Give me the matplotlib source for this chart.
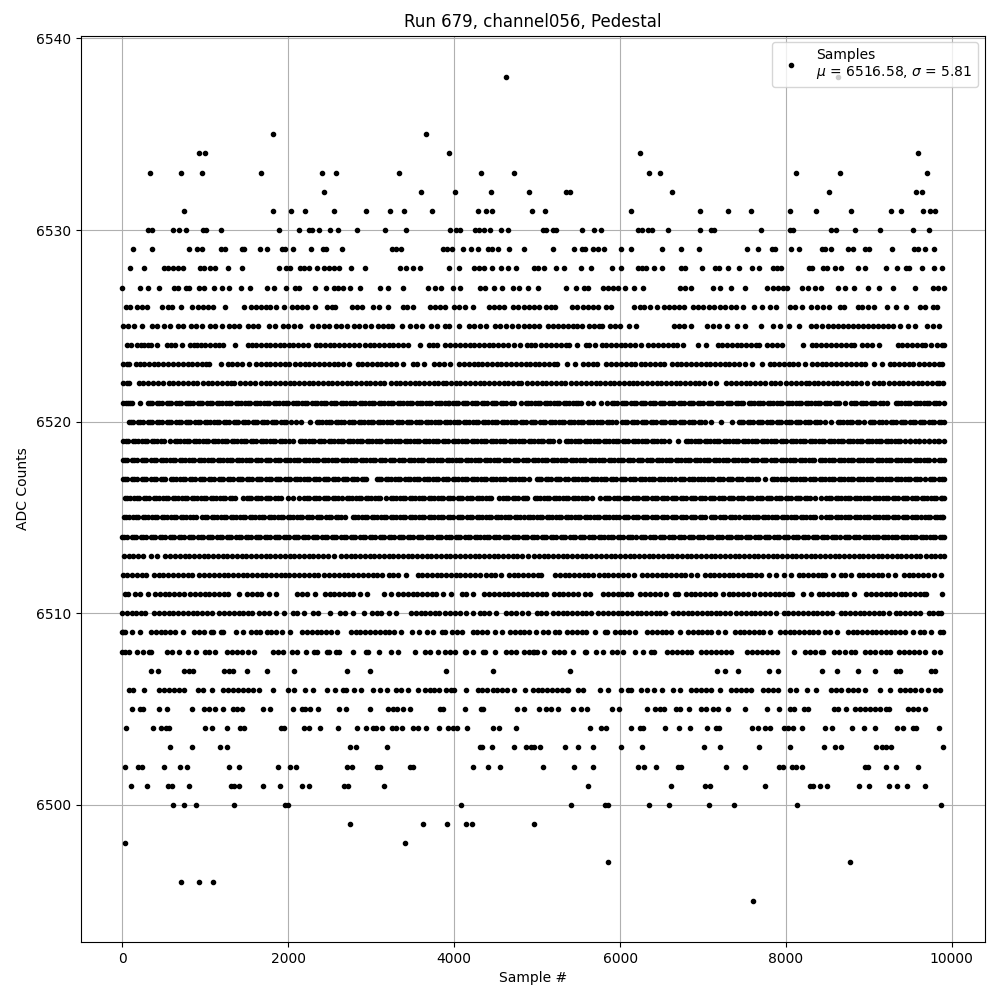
import matplotlib
matplotlib.use('Agg')
import matplotlib.pyplot as plt
import numpy as np

# sample numbers, one list per ADC level
s6538 = [4626, 8626]
s6535 = [1819, 3663]
s6534 = [928, 1000, 3940, 6241, 9590]
s6533 = [337, 711, 964, 1675, 2410, 2578, 3337, 4325, 4723, 6349, 6482, 8120, 8650, 9699]
s6532 = [2434, 3602, 4012, 4446, 4904, 5353, 5394, 6626, 8518, 9567, 9638]
s6531 = [747, 1819, 2036, 2205, 2554, 2940, 3229, 3398, 3735, 4289, 4386, 4458, 4940, 5096, 6133, 6964, 7301, 7578, 8048, 8361, 8783, 9265, 9385, 9650, 9735, 9795]
s6530 = [313, 353, 614, 687, 771, 976, 1012, 1193, 1892, 2133, 2253, 2281, 2373, 2506, 2602, 2831, 3169, 3422, 3952, 4024, 4072, 4253, 4293, 4361, 4426, 4566, 4650, 5072, 5112, 5192, 5232, 5542, 5687, 5771, 6217, 6265, 6337, 6386, 6578, 6964, 7100, 7132, 7699, 8048, 8084, 8542, 8606, 8831, 9132, 9530, 9723]
s6529 = [133, 361, 807, 904, 964, 1193, 1241, 1446, 1470, 1663, 1747, 1928, 1964, 2060, 2277, 2422, 2458, 2651, 3253, 3301, 3361, 3867, 3916, 3976, 4108, 4205, 4289, 4410, 4454, 4530, 4663, 4843, 5193, 5446, 5542, 5574, 5675, 5735, 5803, 6012, 6133, 6506, 6735, 6952, 7530, 7663, 7831, 7867, 8060, 8157, 8434, 8470, 8542, 8747, 8807, 8952, 9000, 9277, 9542, 9590, 9675, 9783]
s6528 = [96, 265, 506, 554, 614, 675, 735, 940, 988, 1060, 1120, 1277, 1446, 1892, 1976, 2024, 2145, 2193, 2253, 2349, 2434, 2494, 2554, 2614, 2759, 2928, 3349, 3422, 3506, 3590, 3940, 4060, 4241, 4301, 4361, 4454, 4566, 4650, 4747, 4964, 5012, 5080, 5229, 5325, 5530, 5651, 5904, 6012, 6217, 6265, 6313, 6410, 6506, 6735, 6783, 6988, 7145, 7193, 7301, 7434, 7590, 7675, 7843, 7892, 7940, 8277, 8313, 8446, 8494, 8590, 8663, 8867, 8952, 9205, 9337, 9446, 9482, 9638, 9783, 9880]
s6527 = [0, 217, 313, 446, 626, 675, 771, 807, 928, 988, 1108, 1205, 1289, 1434, 1542, 1747, 1831, 1976, 2084, 2133, 2325, 2458, 2554, 2602, 2663, 2747, 2867, 3108, 3205, 3386, 3687, 3771, 3843, 3988, 4072, 4313, 4373, 4482, 4578, 4711, 4783, 4892, 5012, 5349, 5470, 5566, 5614, 5795, 5855, 5916, 5976, 6056, 6169, 6277, 6723, 6783, 6855, 7120, 7205, 7333, 7506, 7771, 7843, 7904, 7964, 8012, 8193, 8265, 8349, 8422, 8627, 8707, 8815, 8988, 9120, 9289, 9554, 9771, 9831, 9904]
s6526 = [48, 96, 181, 241, 301, 482, 554, 602, 707, 843, 916, 976, 1036, 1096, 1237, 1470, 1554, 1614, 1675, 1735, 1783, 1855, 1952, 2048, 2108, 2169, 2229, 2325, 2470, 2530, 2566, 2771, 2831, 2891, 3024, 3096, 3205, 3386, 3434, 3506, 3711, 3771, 3831, 3892, 4000, 4060, 4133, 4221, 4422, 4482, 4542, 4602, 4703, 4771, 4843, 4904, 4964, 5024, 5112, 5161, 5217, 5422, 5482, 5554, 5614, 5675, 5735, 5831, 5892, 6169, 6241, 6289, 6361, 6446, 6530, 6590, 6651, 6711, 6771, 6880, 6940, 7000, 7072, 7132, 7205, 7265, 7337, 7398, 7482, 7614, 7711, 7807, 7879, 8048, 8108, 8193, 8301, 8373, 8446, 8518, 8651, 8699, 8867, 8916, 8988, 9060, 9217, 9325, 9446, 9618, 9675, 9771, 9819]
s6525 = [12, 64, 145, 241, 361, 422, 506, 578, 667, 735, 831, 892, 964, 1060, 1120, 1205, 1289, 1349, 1410, 1518, 1578, 1639, 1771, 1843, 1940, 2000, 2072, 2145, 2289, 2361, 2434, 2494, 2578, 2639, 2711, 2795, 2855, 2928, 3000, 3076, 3145, 3205, 3253, 3369, 3470, 3542, 3614, 3723, 3795, 3892, 3940, 4060, 4181, 4241, 4313, 4386, 4494, 4554, 4626, 4699, 4771, 4843, 4904, 4964, 5024, 5133, 5193, 5253, 5313, 5373, 5434, 5482, 5542, 5627, 5687, 5747, 5783, 5880, 5940, 6000, 6108, 6193, 6651, 6711, 6771, 6855, 7048, 7120, 7193, 7289, 7410, 7506, 7699, 7843, 7928, 8036, 8157, 8301, 8361, 8434, 8506, 8566, 8627, 8687, 8747, 8807, 8867, 8928, 8988, 9048, 9108, 9169, 9229, 9289, 9369, 9470, 9554, 9699, 9771, 9843]
s6524 = [55, 105, 180, 225, 265, 310, 350, 415, 540, 585, 630, 723, 810, 860, 905, 950, 1000, 1050, 1120, 1170, 1215, 1357, 1510, 1560, 1615, 1665, 1725, 1780, 1840, 1895, 1950, 2005, 2060, 2115, 2175, 2241, 2330, 2385, 2440, 2500, 2555, 2615, 2670, 2730, 2790, 2850, 2925, 2980, 3035, 3095, 3150, 3210, 3265, 3325, 3380, 3440, 3590, 3700, 3750, 3795, 3895, 3950, 4010, 4070, 4125, 4185, 4240, 4300, 4355, 4415, 4470, 4530, 4590, 4645, 4723, 4790, 4880, 4930, 4975, 5050, 5110, 5170, 5230, 5285, 5345, 5385, 5486, 5590, 5625, 5695, 5780, 5835, 5895, 5950, 6010, 6065, 6125, 6180, 6250, 6340, 6395, 6455, 6520, 6575, 6635, 6690, 6760, 6940, 7040, 7175, 7230, 7290, 7345, 7405, 7460, 7520, 7580, 7640, 7670, 7775, 7830, 7890, 7950, 8205, 8310, 8365, 8425, 8485, 8545, 8600, 8660, 8720, 8780, 8825, 8920, 8975, 9035, 9120, 9345, 9400, 9460, 9520, 9580, 9635, 9680, 9751, 9825, 9880, 9900]
s6523 = [5, 50, 85, 160, 210, 265, 320, 375, 430, 490, 545, 615, 670, 725, 785, 840, 900, 955, 1010, 1048, 1189, 1270, 1325, 1385, 1445, 1530, 1610, 1665, 1725, 1780, 1840, 1895, 1955, 2012, 2085, 2140, 2200, 2255, 2315, 2370, 2430, 2485, 2545, 2600, 2660, 2735, 2835, 2890, 2950, 3005, 3065, 3120, 3180, 3235, 3295, 3378, 3498, 3555, 3638, 3759, 3815, 3880, 3952, 4060, 4120, 4175, 4235, 4281, 4341, 4400, 4455, 4515, 4570, 4630, 4685, 4745, 4800, 4860, 4915, 4975, 5024, 5085, 5140, 5200, 5241, 5365, 5454, 5554, 5610, 5670, 5725, 5835, 5896, 5955, 6015, 6070, 6130, 6177, 6249, 6305, 6365, 6420, 6480, 6535, 6627, 6683, 6740, 6800, 6855, 6915, 6970, 7030, 7085, 7145, 7200, 7260, 7315, 7375, 7430, 7502, 7590, 7711, 7803, 7860, 7920, 7975, 8035, 8090, 8150, 8225, 8313, 8370, 8430, 8485, 8545, 8600, 8667, 8727, 8785, 8840, 8900, 8955, 9060, 9160, 9249, 9305, 9365, 9420, 9480, 9535, 9598, 9670, 9725, 9785, 9840, 9879]
s6522 = [5, 50, 85, 197, 250, 310, 365, 425, 486, 558, 615, 670, 730, 785, 845, 900, 968, 1028, 1085, 1140, 1200, 1255, 1315, 1349, 1418, 1475, 1535, 1602, 1670, 1725, 1785, 1840, 1900, 1955, 2015, 2070, 2130, 2185, 2245, 2300, 2360, 2415, 2475, 2530, 2590, 2645, 2705, 2760, 2820, 2875, 2935, 2990, 3050, 3105, 3157, 3237, 3295, 3350, 3410, 3465, 3525, 3580, 3640, 3695, 3755, 3810, 3870, 3900, 3960, 4020, 4075, 4135, 4190, 4250, 4305, 4365, 4420, 4480, 4535, 4595, 4650, 4710, 4765, 4803, 4883, 4940, 4995, 5055, 5110, 5170, 5225, 5285, 5340, 5414, 5474, 5530, 5590, 5645, 5705, 5760, 5823, 5875, 5930, 5990, 6045, 6105, 6160, 6209, 6265, 6325, 6380, 6440, 6495, 6555, 6610, 6670, 6725, 6785, 6840, 6900, 6955, 7015, 7080, 7160, 7281, 7341, 7400, 7455, 7515, 7570, 7630, 7685, 7745, 7815, 7863, 7925, 8004, 8064, 8125, 8185, 8240, 8277, 8333, 8390, 8450, 8505, 8565, 8620, 8680, 8735, 8795, 8850, 8910, 8980, 9060, 9120, 9175, 9237, 9301, 9360, 9415, 9475, 9530, 9590, 9645, 9705, 9760, 9820, 9839, 9892]
s6521 = [12, 65, 120, 217, 305, 360, 420, 475, 535, 590, 650, 705, 765, 820, 847, 908, 965, 1020, 1080, 1135, 1195, 1250, 1310, 1365, 1425, 1480, 1540, 1595, 1655, 1710, 1770, 1825, 1885, 1940, 2000, 2055, 2115, 2170, 2230, 2285, 2345, 2400, 2460, 2515, 2575, 2630, 2690, 2745, 2805, 2860, 2920, 2975, 3035, 3090, 3150, 3205, 3265, 3320, 3380, 3435, 3495, 3550, 3610, 3665, 3725, 3780, 3840, 3895, 3940, 3988, 4045, 4105, 4160, 4220, 4275, 4335, 4390, 4450, 4505, 4565, 4620, 4680, 4723, 4803, 4860, 4920, 4975, 5035, 5090, 5150, 5205, 5265, 5320, 5380, 5435, 5495, 5526, 5614, 5670, 5767, 5847, 5905, 5960, 6020, 6075, 6135, 6190, 6250, 6305, 6365, 6420, 6480, 6535, 6595, 6650, 6710, 6765, 6825, 6880, 6940, 6995, 7055, 7110, 7170, 7225, 7285, 7340, 7400, 7455, 7482, 7550, 7610, 7665, 7725, 7780, 7840, 7895, 7955, 8010, 8070, 8125, 8185, 8240, 8300, 8355, 8415, 8470, 8530, 8585, 8645, 8707, 8787, 8845, 8905, 8960, 9020, 9075, 9135, 9169, 9221, 9329, 9381, 9440, 9495, 9555, 9610, 9670, 9725, 9785, 9840, 9900]
s6520 = [76, 130, 190, 245, 305, 360, 420, 475, 535, 590, 650, 705, 765, 820, 880, 935, 995, 1050, 1110, 1165, 1225, 1280, 1340, 1395, 1455, 1510, 1570, 1625, 1685, 1740, 1800, 1855, 1915, 1970, 2030, 2092, 2153, 2261, 2345, 2405, 2460, 2520, 2575, 2635, 2675, 2735, 2795, 2850, 2910, 2965, 3025, 3080, 3140, 3195, 3255, 3310, 3370, 3425, 3485, 3540, 3600, 3655, 3715, 3770, 3830, 3885, 3945, 4000, 4060, 4115, 4175, 4230, 4290, 4345, 4405, 4460, 4520, 4575, 4635, 4690, 4750, 4805, 4865, 4920, 4980, 5035, 5095, 5150, 5210, 5265, 5325, 5380, 5440, 5495, 5555, 5610, 5670, 5725, 5785, 5840, 5900, 5956, 6028, 6085, 6145, 6200, 6260, 6315, 6375, 6430, 6490, 6545, 6605, 6660, 6720, 6775, 6835, 6890, 6950, 7020, 7100, 7221, 7349, 7429, 7485, 7545, 7600, 7660, 7715, 7775, 7830, 7890, 7945, 8005, 8060, 8120, 8175, 8235, 8290, 8350, 8405, 8466, 8546, 8626, 8685, 8740, 8800, 8855, 8940, 9008, 9065, 9125, 9209, 9269, 9325, 9385, 9440, 9500, 9555, 9615, 9670, 9730, 9785, 9845, 9904]
s6519 = [12, 70, 125, 185, 240, 300, 355, 415, 470, 574, 630, 690, 745, 805, 860, 920, 975, 1035, 1090, 1150, 1205, 1265, 1320, 1380, 1435, 1495, 1550, 1610, 1665, 1725, 1780, 1840, 1895, 1955, 2010, 2060, 2140, 2200, 2255, 2315, 2370, 2430, 2485, 2545, 2600, 2660, 2715, 2775, 2830, 2890, 2945, 3005, 3060, 3120, 3175, 3235, 3290, 3350, 3405, 3465, 3520, 3580, 3635, 3695, 3750, 3810, 3865, 3925, 3980, 4040, 4095, 4155, 4210, 4270, 4325, 4385, 4440, 4500, 4555, 4615, 4670, 4730, 4785, 4845, 4900, 4960, 5015, 5075, 5130, 5190, 5261, 5345, 5405, 5460, 5520, 5575, 5635, 5690, 5750, 5805, 5865, 5920, 5980, 6035, 6095, 6150, 6210, 6265, 6325, 6380, 6440, 6495, 6594, 6699, 6791, 6850, 6905, 6965, 7020, 7080, 7135, 7195, 7250, 7310, 7365, 7425, 7480, 7540, 7595, 7655, 7710, 7770, 7825, 7885, 7940, 8000, 8055, 8115, 8170, 8230, 8285, 8345, 8400, 8460, 8515, 8575, 8630, 8690, 8745, 8805, 8860, 8920, 8975, 9035, 9090, 9150, 9205, 9265, 9320, 9380, 9438, 9490, 9550, 9605, 9665, 9720, 9780, 9835, 9904]
s6518 = [4, 60, 115, 175, 230, 290, 345, 405, 460, 520, 575, 635, 690, 750, 805, 865, 920, 980, 1035, 1095, 1150, 1210, 1265, 1325, 1380, 1440, 1495, 1555, 1610, 1670, 1725, 1785, 1840, 1900, 1955, 2015, 2070, 2130, 2185, 2245, 2300, 2360, 2415, 2475, 2530, 2590, 2645, 2705, 2760, 2820, 2875, 2935, 2990, 3050, 3105, 3165, 3220, 3280, 3335, 3395, 3450, 3510, 3565, 3625, 3680, 3740, 3795, 3855, 3910, 3970, 4025, 4085, 4140, 4200, 4255, 4315, 4370, 4430, 4485, 4545, 4600, 4660, 4715, 4775, 4830, 4890, 4945, 5005, 5060, 5120, 5175, 5235, 5290, 5350, 5405, 5465, 5520, 5580, 5635, 5695, 5750, 5810, 5865, 5925, 5980, 6040, 6095, 6155, 6210, 6270, 6325, 6385, 6440, 6500, 6555, 6615, 6670, 6730, 6785, 6845, 6900, 6960, 7015, 7075, 7130, 7190, 7245, 7305, 7360, 7420, 7475, 7535, 7590, 7650, 7705, 7765, 7820, 7880, 7935, 7995, 8050, 8110, 8165, 8225, 8280, 8337, 8405, 8465, 8520, 8580, 8635, 8695, 8750, 8810, 8865, 8925, 8980, 9040, 9095, 9155, 9210, 9270, 9325, 9385, 9440, 9500, 9555, 9615, 9670, 9730, 9783, 9839, 9904]
s6517 = [4, 60, 115, 175, 230, 290, 345, 405, 460, 518, 586, 640, 700, 755, 815, 870, 930, 985, 1045, 1100, 1160, 1215, 1275, 1330, 1390, 1445, 1505, 1560, 1620, 1675, 1735, 1790, 1850, 1905, 1965, 2020, 2080, 2135, 2195, 2250, 2310, 2365, 2425, 2480, 2540, 2595, 2655, 2710, 2770, 2825, 2885, 2936, 3064, 3120, 3175, 3235, 3290, 3350, 3405, 3465, 3520, 3580, 3635, 3695, 3750, 3810, 3865, 3925, 3980, 4040, 4095, 4155, 4210, 4270, 4325, 4385, 4440, 4500, 4555, 4615, 4670, 4730, 4785, 4845, 4900, 4996, 5050, 5110, 5165, 5225, 5280, 5340, 5374, 5430, 5490, 5545, 5605, 5660, 5720, 5775, 5835, 5890, 5950, 6005, 6065, 6120, 6180, 6235, 6295, 6350, 6410, 6465, 6525, 6580, 6659, 6719, 6775, 6830, 6890, 6940, 7008, 7065, 7125, 7180, 7240, 7295, 7355, 7410, 7470, 7525, 7585, 7640, 7743, 7831, 7890, 7945, 8005, 8060, 8120, 8175, 8235, 8290, 8350, 8405, 8465, 8520, 8580, 8635, 8695, 8750, 8810, 8865, 8925, 8980, 9040, 9095, 9155, 9210, 9270, 9325, 9385, 9440, 9500, 9555, 9615, 9671, 9731, 9790, 9850, 9904]
s6516 = [32, 90, 145, 205, 260, 320, 375, 435, 490, 550, 605, 665, 720, 780, 835, 895, 950, 1010, 1065, 1125, 1180, 1240, 1295, 1355, 1450, 1498, 1555, 1615, 1670, 1730, 1785, 1845, 1916, 1996, 2055, 2133, 2193, 2250, 2310, 2365, 2425, 2480, 2540, 2595, 2647, 2707, 2765, 2820, 2880, 2935, 2995, 3050, 3110, 3177, 3237, 3295, 3350, 3410, 3465, 3525, 3580, 3640, 3695, 3755, 3810, 3870, 3925, 3985, 4040, 4100, 4155, 4215, 4270, 4330, 4385, 4445, 4542, 4594, 4650, 4710, 4765, 4825, 4880, 4972, 5030, 5085, 5145, 5200, 5260, 5315, 5375, 5430, 5490, 5545, 5605, 5660, 5755, 5815, 5870, 5930, 5985, 6045, 6100, 6160, 6215, 6275, 6330, 6390, 6445, 6505, 6560, 6620, 6675, 6735, 6790, 6850, 6905, 6965, 7020, 7080, 7135, 7195, 7250, 7310, 7365, 7425, 7480, 7540, 7595, 7655, 7710, 7770, 7825, 7885, 7940, 8000, 8055, 8115, 8170, 8230, 8285, 8345, 8418, 8486, 8545, 8600, 8660, 8715, 8775, 8830, 8890, 8945, 9005, 9060, 9120, 9175, 9235, 9290, 9350, 9405, 9465, 9520, 9580, 9635, 9695, 9750, 9810, 9865, 9904]
s6515 = [16, 75, 130, 190, 245, 305, 360, 420, 475, 535, 590, 650, 705, 765, 820, 888, 960, 1020, 1075, 1135, 1190, 1250, 1305, 1365, 1420, 1480, 1535, 1595, 1650, 1710, 1765, 1825, 1880, 1940, 1995, 2055, 2110, 2170, 2225, 2285, 2340, 2400, 2455, 2515, 2570, 2630, 2687, 2775, 2835, 2890, 2950, 3005, 3065, 3120, 3180, 3235, 3295, 3350, 3410, 3465, 3525, 3580, 3640, 3695, 3755, 3810, 3870, 3925, 3985, 4040, 4100, 4155, 4215, 4270, 4330, 4385, 4442, 4502, 4560, 4615, 4675, 4730, 4790, 4845, 4884, 4945, 5000, 5060, 5115, 5175, 5230, 5290, 5345, 5405, 5460, 5520, 5575, 5635, 5690, 5750, 5805, 5865, 5920, 5984, 6044, 6100, 6160, 6215, 6275, 6330, 6390, 6445, 6505, 6560, 6620, 6675, 6735, 6790, 6850, 6905, 6965, 7020, 7092, 7150, 7205, 7265, 7320, 7380, 7430, 7490, 7550, 7605, 7665, 7720, 7780, 7835, 7895, 7950, 8010, 8065, 8125, 8180, 8240, 8295, 8355, 8426, 8486, 8545, 8600, 8660, 8715, 8775, 8830, 8890, 8945, 9005, 9060, 9120, 9175, 9235, 9290, 9350, 9405, 9465, 9520, 9580, 9630, 9682, 9740, 9800, 9855, 9892]
s6514 = [-4, 50, 110, 165, 225, 280, 340, 395, 455, 510, 570, 625, 685, 740, 800, 855, 915, 970, 1030, 1085, 1145, 1200, 1260, 1315, 1375, 1430, 1490, 1545, 1605, 1660, 1720, 1775, 1835, 1890, 1950, 2005, 2065, 2120, 2180, 2235, 2295, 2350, 2410, 2465, 2525, 2580, 2640, 2695, 2755, 2810, 2870, 2925, 2985, 3040, 3100, 3155, 3215, 3270, 3330, 3385, 3445, 3500, 3560, 3615, 3675, 3730, 3790, 3845, 3905, 3960, 4020, 4075, 4135, 4190, 4250, 4305, 4365, 4420, 4480, 4535, 4595, 4650, 4710, 4765, 4825, 4880, 4940, 4995, 5055, 5110, 5170, 5225, 5285, 5340, 5400, 5455, 5515, 5570, 5630, 5685, 5745, 5800, 5860, 5915, 5975, 6030, 6090, 6145, 6197, 6249, 6305, 6365, 6420, 6480, 6535, 6595, 6650, 6710, 6765, 6825, 6880, 6940, 6995, 7055, 7110, 7170, 7225, 7285, 7340, 7400, 7455, 7515, 7570, 7630, 7685, 7745, 7800, 7860, 7915, 7975, 8030, 8090, 8145, 8205, 8260, 8320, 8375, 8435, 8490, 8550, 8605, 8647, 8707, 8765, 8820, 8880, 8935, 8995, 9050, 9110, 9165, 9225, 9280, 9340, 9395, 9455, 9510, 9570, 9625, 9685, 9740, 9800, 9855, 9904]
s6513 = [16, 75, 130, 190, 245, 345, 414, 518, 575, 635, 690, 750, 805, 865, 920, 980, 1035, 1095, 1150, 1210, 1265, 1325, 1380, 1440, 1495, 1555, 1610, 1670, 1725, 1785, 1840, 1900, 1955, 2015, 2070, 2130, 2185, 2245, 2300, 2360, 2415, 2475, 2554, 2634, 2690, 2750, 2805, 2865, 2920, 2980, 3035, 3095, 3150, 3210, 3265, 3325, 3380, 3440, 3495, 3555, 3610, 3670, 3725, 3785, 3840, 3900, 3955, 4015, 4070, 4130, 4185, 4245, 4300, 4360, 4415, 4475, 4530, 4590, 4645, 4705, 4760, 4820, 4891, 4964, 5020, 5080, 5135, 5195, 5250, 5310, 5365, 5425, 5480, 5540, 5595, 5655, 5710, 5770, 5825, 5885, 5940, 6000, 6055, 6115, 6170, 6230, 6285, 6345, 6400, 6460, 6515, 6575, 6630, 6690, 6745, 6805, 6860, 6920, 6975, 7035, 7090, 7150, 7205, 7265, 7320, 7380, 7435, 7495, 7550, 7610, 7665, 7725, 7780, 7840, 7895, 7955, 8010, 8070, 8125, 8185, 8240, 8300, 8355, 8415, 8470, 8530, 8585, 8645, 8700, 8760, 8815, 8875, 8930, 8990, 9045, 9105, 9160, 9220, 9275, 9335, 9390, 9450, 9505, 9565, 9620, 9691, 9743, 9800, 9855, 9900]
s6512 = [4, 60, 115, 175, 230, 290, 385, 438, 495, 555, 610, 670, 725, 785, 840, 920, 988, 1045, 1105, 1160, 1220, 1275, 1335, 1390, 1450, 1505, 1565, 1620, 1680, 1735, 1795, 1850, 1910, 1965, 2012, 2072, 2130, 2190, 2245, 2305, 2360, 2434, 2494, 2554, 2610, 2670, 2725, 2785, 2840, 2900, 2955, 3015, 3068, 3128, 3209, 3265, 3325, 3418, 3558, 3615, 3675, 3730, 3790, 3845, 3905, 3960, 4020, 4075, 4135, 4190, 4250, 4313, 4389, 4445, 4494, 4570, 4660, 4720, 4775, 4835, 4890, 4950, 5005, 5045, 5213, 5270, 5330, 5385, 5445, 5500, 5560, 5615, 5675, 5747, 5805, 5860, 5920, 5975, 6035, 6090, 6169, 6269, 6325, 6385, 6440, 6500, 6555, 6615, 6670, 6730, 6785, 6860, 6932, 7020, 7080, 7135, 7195, 7250, 7310, 7365, 7425, 7480, 7540, 7574, 7642, 7700, 7791, 7883, 7972, 8064, 8152, 8210, 8265, 8325, 8380, 8440, 8466, 8566, 8667, 8707, 8783, 8875, 8930, 8990, 9045, 9105, 9160, 9229, 9317, 9421, 9480, 9535, 9595, 9650, 9710, 9783, 9871]
s6511 = [32, 72, 157, 212, 305, 393, 450, 510, 565, 625, 680, 747, 815, 875, 930, 990, 1045, 1105, 1160, 1220, 1277, 1402, 1502, 1560, 1620, 1675, 1763, 1851, 2104, 2165, 2220, 2321, 2442, 2500, 2555, 2615, 2670, 2730, 2775, 2867, 2944, 3156, 3237, 3325, 3385, 3440, 3500, 3555, 3615, 3670, 3730, 3785, 3868, 3964, 4088, 4145, 4221, 4361, 4420, 4480, 4535, 4595, 4650, 4710, 4765, 4825, 4880, 4940, 4995, 5055, 5110, 5201, 5260, 5315, 5375, 5430, 5494, 5574, 5635, 5795, 5855, 5910, 5970, 6025, 6085, 6137, 6245, 6305, 6360, 6420, 6478, 6558, 6659, 6699, 6791, 6850, 6905, 6965, 7020, 7080, 7141, 7241, 7309, 7365, 7425, 7480, 7540, 7610, 7691, 7750, 7805, 7865, 7920, 7980, 8035, 8076, 8205, 8297, 8393, 8450, 8510, 8565, 8625, 8680, 8719, 8819, 8968, 9025, 9085, 9140, 9200, 9255, 9309, 9381, 9440, 9495, 9555, 9610, 9670, 9691, 9880]
s6510 = [-4, 50, 110, 165, 225, 273, 385, 445, 500, 560, 615, 675, 730, 790, 845, 905, 960, 1020, 1080, 1169, 1225, 1285, 1340, 1400, 1455, 1515, 1562, 1650, 1710, 1771, 1851, 1952, 2052, 2110, 2193, 2293, 2353, 2506, 2626, 2685, 2783, 2908, 3008, 3065, 3116, 3217, 3297, 3478, 3535, 3595, 3650, 3710, 3765, 3819, 3891, 3950, 4005, 4065, 4141, 4229, 4309, 4365, 4420, 4502, 4630, 4690, 4745, 4823, 4895, 4996, 5050, 5108, 5193, 5250, 5310, 5365, 5425, 5480, 5540, 5595, 5655, 5735, 5795, 5855, 5910, 5970, 6025, 6085, 6140, 6200, 6255, 6315, 6370, 6430, 6485, 6538, 6639, 6700, 6755, 6815, 6870, 6930, 6985, 7045, 7100, 7160, 7201, 7269, 7321, 7401, 7460, 7515, 7575, 7630, 7690, 7745, 7805, 7884, 7972, 8030, 8090, 8145, 8205, 8260, 8320, 8375, 8435, 8490, 8554, 8658, 8715, 8775, 8830, 8890, 8945, 9005, 9060, 9120, 9175, 9237, 9321, 9380, 9435, 9495, 9550, 9610, 9719, 9775, 9830, 9872]
s6509 = [0, 12, 30, 120, 217, 345, 400, 460, 515, 575, 630, 727, 867, 925, 988, 1068, 1088, 1189, 1209, 1369, 1450, 1550, 1610, 1659, 1739, 1795, 1851, 1928, 2024, 2165, 2225, 2280, 2340, 2395, 2455, 2510, 2582, 2755, 2815, 2870, 2930, 2985, 3045, 3100, 3160, 3215, 3275, 3357, 3490, 3578, 3671, 3747, 3851, 3888, 3968, 4030, 4100, 4229, 4269, 4341, 4400, 4494, 4578, 4671, 4730, 4790, 4845, 4905, 4992, 5072, 5133, 5213, 5261, 5365, 5425, 5480, 5540, 5595, 5695, 5815, 5847, 5936, 5995, 6050, 6110, 6185, 6325, 6385, 6440, 6500, 6555, 6615, 6719, 6819, 6875, 6935, 6990, 7050, 7100, 7181, 7261, 7381, 7440, 7495, 7555, 7610, 7670, 7725, 7803, 7924, 7984, 8044, 8100, 8160, 8215, 8275, 8330, 8390, 8466, 8526, 8615, 8747, 8805, 8860, 8920, 8975, 9035, 9090, 9150, 9205, 9265, 9320, 9380, 9435, 9530, 9610, 9670, 9751, 9851, 9892]
s6508 = [-4, 30, 84, 173, 245, 325, 345, 538, 595, 687, 787, 888, 996, 1040, 1120, 1261, 1320, 1380, 1440, 1510, 1582, 1811, 1870, 1932, 2044, 2105, 2213, 2313, 2341, 2466, 2486, 2574, 2606, 2783, 2936, 2956, 3096, 3237, 3317, 3530, 3650, 3707, 3799, 3891, 3950, 4012, 4132, 4141, 4229, 4353, 4373, 4494, 4622, 4680, 4743, 4843, 4900, 4960, 5004, 4952, 5080, 5201, 5260, 5320, 5434, 5574, 5594, 5715, 5795, 5908, 5965, 6036, 6185, 6277, 6377, 6410, 6570, 6630, 6690, 6750, 6810, 6860, 6980, 7040, 7100, 7160, 7220, 7280, 7341, 7534, 7590, 7650, 7710, 7770, 7830, 7896, 8096, 8233, 8290, 8345, 8426, 8446, 8578, 8640, 8707, 8787, 8827, 8948, 9008, 9068, 9148, 9210, 9249, 9361, 9420, 9480, 9540, 9600, 9671, 9783, 9859]
s6507 = [349, 434, 747, 807, 855, 1229, 1289, 1329, 1506, 1747, 2064, 2711, 2988, 3904, 4470, 5398, 7169, 7265, 7422, 7795, 7904, 8434, 8614, 8863, 9072, 9321, 9369, 9751, 9791]
s6506 = [84, 124, 265, 446, 505, 565, 625, 685, 747, 908, 976, 1084, 1209, 1270, 1330, 1390, 1450, 1510, 1570, 1651, 1819, 2000, 2072, 2201, 2301, 2470, 2566, 2654, 2695, 2795, 2876, 3016, 3104, 3189, 3297, 3357, 3438, 3566, 3651, 3711, 3759, 3819, 3900, 3960, 4000, 4141, 4281, 4341, 4401, 4462, 4522, 4582, 4642, 4723, 4855, 4944, 5012, 5060, 5120, 5180, 5240, 5300, 5360, 5374, 5494, 5554, 5755, 5855, 6016, 6096, 6137, 6257, 6320, 6410, 6510, 6638, 6719, 6851, 6910, 6970, 7040, 7100, 7205, 7341, 7400, 7460, 7520, 7582, 7723, 7780, 7840, 7904, 8044, 8117, 8257, 8366, 8546, 8606, 8663, 8747, 8805, 8865, 8948, 9128, 9249, 9369, 9430, 9490, 9550, 9630, 9711, 9791, 9851]
s6505 = [120, 217, 245, 446, 542, 843, 988, 1048, 1120, 1217, 1337, 1381, 1446, 1699, 1783, 2060, 2169, 2201, 2265, 2361, 2614, 2699, 2988, 3205, 3257, 3309, 3386, 3470, 3831, 3859, 4133, 4321, 4353, 4759, 4843, 5024, 5112, 5173, 5253, 5434, 5530, 5602, 5904, 5988, 6325, 6422, 6478, 6530, 6679, 6727, 6831, 6976, 7032, 7120, 7181, 7301, 7506, 7775, 7916, 8048, 8092, 8217, 8265, 8574, 8627, 8723, 8827, 8888, 8948, 9008, 9068, 9128, 9209, 9241, 9470, 9530, 9590, 9675]
s6504 = [48, 373, 470, 530, 566, 1000, 1084, 1265, 1422, 1470, 1912, 1952, 2193, 2253, 2386, 2602, 2831, 2940, 3016, 3056, 3132, 3253, 3297, 3373, 3506, 3566, 3659, 3819, 3920, 3980, 4028, 4157, 4462, 4542, 4747, 5639, 5771, 5835, 6133, 6237, 6277, 6542, 6707, 6843, 7048, 7153, 7193, 7594, 7659, 7751, 7811, 7976, 8024, 8084, 8193, 8470, 8554, 8795, 8940, 9072, 9337, 9410, 9530, 9570, 9843]
s6503 = [578, 843, 1181, 1265, 2747, 2819, 3193, 4313, 4341, 4458, 4723, 4867, 4924, 4964, 5036, 5341, 5498, 5675, 6012, 6265, 7012, 7205, 7675, 8048, 8458, 8590, 8663, 9084, 9157, 9209, 9261, 9892]
s6502 = [36, 193, 241, 506, 699, 783, 1289, 1410, 1880, 2024, 2096, 2711, 2771, 3068, 3108, 3470, 3506, 4229, 4410, 4554, 5072, 5446, 5675, 6217, 6293, 6438, 6699, 6739, 7277, 7506, 7916, 7964, 8072, 8124, 8193, 8952, 8992, 9205, 9325, 9590]
s6501 = [108, 301, 554, 594, 807, 1313, 1349, 1410, 1699, 1904, 2169, 2253, 2675, 2723, 3157, 5614, 6614, 7024, 7080, 7747, 8289, 8321, 8409, 8494, 8880, 8996, 9241, 9337, 9458, 9675]
s6500 = [614, 747, 892, 1349, 1960, 1992, 4084, 5410, 5819, 5855, 6349, 6590, 7072, 7373, 8132, 9867]
s6499 = [2747, 3626, 3916, 4144, 4209, 4964]
s6498 = [36, 3410]
s6497 = [5855, 8771]
s6496 = [711, 928, 1096]
s6495 = [7602]

# second helping for the rows that read as nearly solid bars
e6521 = [38, 92, 332, 447, 562, 677, 792, 937, 1052, 1167, 1282, 1397, 1512, 1627, 1742, 1857, 1972, 2087, 2202, 2317, 2432, 2547, 2662, 2777, 2892, 3007, 3122, 3237, 3352, 3467, 3582, 3697, 3812, 3927, 4017, 4132, 4247, 4362, 4477, 4592, 4892, 5007, 5122, 5237, 5352, 5467, 5932, 6047, 6162, 6277, 6392, 6507, 6622, 6737, 6852, 6967, 7082, 7197, 7312, 7427, 7577, 7692, 7807, 7922, 8037, 8152, 8267, 8382, 8497, 8612, 8817, 8932, 9047, 9355, 9467, 9582, 9697, 9812]
e6520 = [103, 217, 332, 447, 562, 677, 792, 907, 1022, 1137, 1252, 1367, 1482, 1597, 1712, 1827, 1942, 2375, 2490, 2605, 2765, 2880, 2995, 3110, 3225, 3340, 3455, 3570, 3685, 3800, 3915, 4030, 4145, 4260, 4375, 4490, 4605, 4720, 4835, 4950, 5065, 5180, 5295, 5410, 5525, 5640, 5755, 5870, 6057, 6172, 6287, 6402, 6517, 6632, 6747, 6862, 6977, 7457, 7572, 7687, 7802, 7917, 8032, 8147, 8262, 8377, 8655, 8770, 8885, 9037, 9152, 9295, 9412, 9527, 9642, 9757, 9872]
e6519 = [40, 155, 270, 385, 500, 660, 775, 890, 1005, 1120, 1235, 1350, 1465, 1580, 1695, 1810, 1925, 2170, 2285, 2400, 2515, 2630, 2745, 2860, 2975, 3090, 3205, 3320, 3435, 3550, 3665, 3780, 3895, 4010, 4125, 4240, 4355, 4470, 4585, 4700, 4815, 4930, 5045, 5160, 5375, 5490, 5605, 5720, 5835, 5950, 6065, 6180, 6295, 6410, 6525, 6820, 6935, 7050, 7165, 7280, 7395, 7510, 7625, 7740, 7855, 7970, 8085, 8200, 8315, 8430, 8545, 8660, 8775, 8890, 9005, 9120, 9235, 9350, 9492, 9607, 9722, 9850]
e6518 = [32, 145, 260, 375, 490, 605, 720, 835, 950, 1065, 1180, 1295, 1410, 1525, 1640, 1755, 1870, 1985, 2100, 2215, 2330, 2445, 2560, 2675, 2790, 2905, 3020, 3135, 3250, 3365, 3480, 3595, 3710, 3825, 3940, 4055, 4170, 4285, 4400, 4515, 4630, 4745, 4860, 4975, 5090, 5205, 5320, 5435, 5550, 5665, 5780, 5895, 6010, 6125, 6240, 6355, 6470, 6585, 6700, 6815, 6930, 7045, 7160, 7275, 7390, 7505, 7620, 7735, 7850, 7965, 8080, 8195, 8310, 8435, 8550, 8665, 8780, 8895, 9010, 9125, 9240, 9355, 9470, 9585, 9700, 9870]
e6517 = [32, 145, 260, 375, 490, 612, 727, 842, 957, 1072, 1187, 1302, 1417, 1532, 1647, 1762, 1877, 1992, 2107, 2222, 2337, 2452, 2567, 2682, 2797, 2912, 3092, 3207, 3322, 3437, 3552, 3667, 3782, 3897, 4012, 4127, 4242, 4357, 4472, 4587, 4702, 4817, 5020, 5135, 5250, 5460, 5575, 5690, 5805, 5920, 6035, 6150, 6265, 6380, 6495, 6610, 6747, 6862, 6977, 7092, 7207, 7322, 7437, 7552, 7667, 7860, 7975, 8090, 8205, 8320, 8435, 8550, 8665, 8780, 8895, 9010, 9125, 9240, 9355, 9470, 9585, 9760, 9878]
e6516 = [60, 175, 290, 405, 520, 635, 750, 865, 980, 1095, 1210, 1325, 1525, 1640, 1755, 1870, 2220, 2335, 2450, 2565, 2735, 2850, 2965, 3080, 3265, 3380, 3495, 3610, 3725, 3840, 3955, 4070, 4185, 4300, 4415, 4622, 4737, 4852, 5000, 5115, 5230, 5345, 5460, 5575, 5843, 5958, 6073, 6188, 6303, 6418, 6533, 6648, 6763, 6878, 6993, 7108, 7223, 7338, 7453, 7568, 7683, 7798, 7913, 8028, 8143, 8258, 8515, 8630, 8745, 8860, 8975, 9090, 9205, 9320, 9435, 9550, 9665, 9780, 9885]
e6515 = [45, 160, 275, 390, 505, 620, 735, 850, 990, 1105, 1220, 1335, 1450, 1565, 1680, 1795, 1910, 2025, 2140, 2255, 2370, 2485, 2600, 2805, 2920, 3035, 3150, 3265, 3380, 3495, 3610, 3725, 3840, 3955, 4070, 4185, 4300, 4415, 4530, 4645, 4760, 4915, 5030, 5145, 5260, 5375, 5490, 5605, 5720, 5835, 5950, 6072, 6187, 6302, 6417, 6532, 6647, 6762, 6877, 6992, 7120, 7235, 7350, 7520, 7635, 7750, 7865, 7980, 8095, 8210, 8325, 8515, 8630, 8745, 8860, 8975, 9090, 9205, 9320, 9435, 9550, 9710, 9825, 9875]
e6514 = [22, 137, 252, 367, 482, 597, 712, 827, 942, 1057, 1172, 1287, 1402, 1517, 1632, 1747, 1862, 1977, 2092, 2207, 2322, 2437, 2552, 2667, 2782, 2897, 3012, 3127, 3242, 3357, 3472, 3587, 3702, 3817, 3932, 4047, 4162, 4277, 4392, 4507, 4622, 4737, 4852, 4967, 5082, 5197, 5312, 5427, 5542, 5657, 5772, 5887, 6002, 6117, 6277, 6392, 6507, 6622, 6737, 6852, 6967, 7082, 7197, 7312, 7427, 7542, 7657, 7772, 7887, 8002, 8117, 8232, 8347, 8462, 8577, 8735, 8850, 8965, 9080, 9195, 9310, 9425, 9540, 9655, 9770, 9885]

levels = [6538, 6535, 6534, 6533, 6532, 6531, 6530, 6529, 6528, 6527, 6526, 6525, 6524, 6523,
          6522, 6521, 6520, 6519, 6518, 6517, 6516, 6515, 6514, 6513, 6512, 6511, 6510, 6509,
          6508, 6507, 6506, 6505, 6504, 6503, 6502, 6501, 6500, 6499, 6498, 6497, 6496, 6495,
          6521, 6520, 6519, 6518, 6517, 6516, 6515, 6514]
samples = [s6538, s6535, s6534, s6533, s6532, s6531, s6530, s6529, s6528, s6527, s6526, s6525, s6524, s6523,
           s6522, s6521, s6520, s6519, s6518, s6517, s6516, s6515, s6514, s6513, s6512, s6511, s6510, s6509,
           s6508, s6507, s6506, s6505, s6504, s6503, s6502, s6501, s6500, s6499, s6498, s6497, s6496, s6495,
           e6521, e6520, e6519, e6518, e6517, e6516, e6515, e6514]

x = np.concatenate([np.array(s) for s in samples])
y = np.concatenate([np.full(len(s), lev) for s, lev in zip(samples, levels)])

fig, ax = plt.subplots(figsize=(10, 10), dpi=100)
ax.plot(x, y, 'k.', label='Samples\n$\\mu$ = 6516.58, $\\sigma$ = 5.81')
ax.set_title('Run 679, channel056, Pedestal')
ax.set_xlabel('Sample #')
ax.set_ylabel('ADC Counts')
ax.grid(True)
ax.legend(loc='upper right')
ax.ticklabel_format(useOffset=False, style='plain')
fig.subplots_adjust(left=0.081, right=0.985, top=0.9645, bottom=0.058)
fig.savefig('out.png')
